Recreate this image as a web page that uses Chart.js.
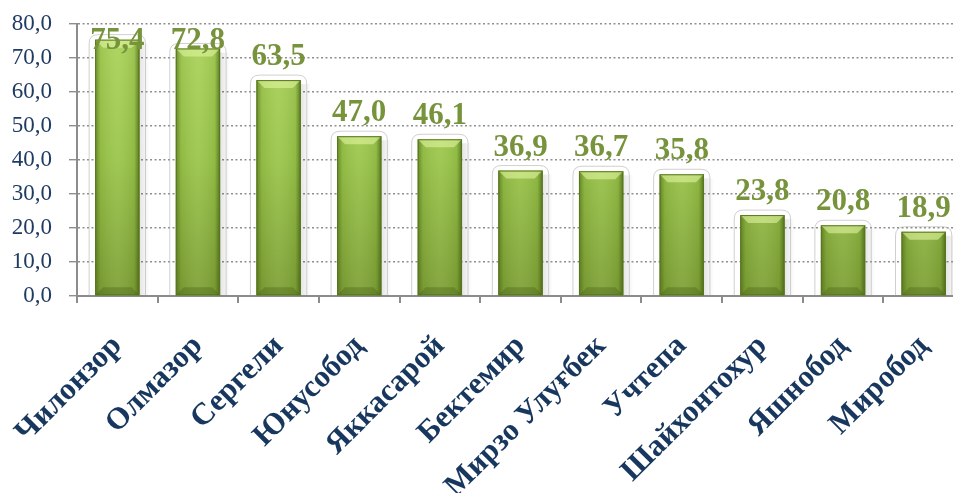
<!DOCTYPE html>
<html>
<head>
<meta charset="utf-8">
<script src="https://cdn.jsdelivr.net/npm/chart.js@4.4.0/dist/chart.umd.min.js"></script>
<style>
  html, body { margin: 0; padding: 0; background: #fff; overflow: hidden; }
  #wrap { position: relative; width: 964px; height: 493px; }
</style>
</head>
<body>
<div id="wrap"><canvas id="c"></canvas></div>
<script>
  /* data */
  const districts = ['Чилонзор', 'Олмазор', 'Сергели', 'Юнусобод', 'Яккасарой', 'Бектемир',
                     'Мирзо Улуғбек', 'Учтепа', 'Шайхонтохур', 'Яшнобод', 'Миробод'];
  const values = [75.4, 72.8, 63.5, 47.0, 46.1, 36.9, 36.7, 35.8, 23.8, 20.8, 18.9];
  const yTicks = [0, 10, 20, 30, 40, 50, 60, 70, 80];

  const fmt = v => v.toFixed(1).replace('.', ',');
  const SERIF = "'Liberation Serif', 'Times New Roman', serif";

  /* bar fill: vertical gradient */
  function barFill(ctx) {
    const c = ctx.chart.ctx;
    const area = ctx.chart.chartArea;
    if (!area) return '#94bd45';
    const g = c.createLinearGradient(0, area.top, 0, area.bottom);
    g.addColorStop(0, '#acd45b');
    g.addColorStop(0.5, '#9ac54a');
    g.addColorStop(1, '#7d9f35');
    return g;
  }

  /* glow outline behind bars */
  const barGlow = {
    id: 'barGlow',
    beforeDatasetsDraw(chart) {
      const c = chart.ctx;
      const meta = chart.getDatasetMeta(0);
      c.save();
      meta.data.forEach(b => {
        const l = b.x - b.width / 2 - 6, r = b.x + b.width / 2 + 6;
        const t = b.y - 5, bot = b.base;
        const rad = 9;
        const sg = c.createLinearGradient(r - 6, 0, r + 4, 0);
        sg.addColorStop(0, 'rgba(0,0,0,0.10)');
        sg.addColorStop(1, 'rgba(0,0,0,0)');
        c.fillStyle = sg;
        c.fillRect(r - 6, b.y + 4, 10, bot - b.y - 4);
        c.beginPath();
        c.moveTo(l, bot);
        c.lineTo(l, t + rad);
        c.quadraticCurveTo(l, t, l + rad, t);
        c.lineTo(r - rad, t);
        c.quadraticCurveTo(r, t, r, t + rad);
        c.lineTo(r, bot);
        c.strokeStyle = 'rgba(170,170,170,0.55)';
        c.lineWidth = 1;
        c.stroke();
      });
      c.restore();
    }
  };

  /* bevel shading on top of bars */
  const barBevel = {
    id: 'barBevel',
    afterDatasetsDraw(chart) {
      const c = chart.ctx;
      const meta = chart.getDatasetMeta(0);
      c.save();
      meta.data.forEach(b => {
        const l = b.x - b.width / 2, r = b.x + b.width / 2;
        const t = b.y, bot = b.base, bv = 8;
        const hg = c.createLinearGradient(l, 0, r, 0);
        hg.addColorStop(0, 'rgba(60,85,15,0.55)');
        hg.addColorStop(0.12, 'rgba(60,85,15,0.10)');
        hg.addColorStop(0.5, 'rgba(255,255,255,0.06)');
        hg.addColorStop(0.88, 'rgba(60,85,15,0.10)');
        hg.addColorStop(1, 'rgba(50,75,10,0.65)');
        c.fillStyle = hg;
        c.fillRect(l, t, r - l, bot - t);
        c.beginPath();
        c.moveTo(l, t); c.lineTo(r, t); c.lineTo(r - bv, t + bv); c.lineTo(l + bv, t + bv); c.closePath();
        c.fillStyle = 'rgba(225,245,160,0.6)';
        c.fill();
        c.beginPath();
        c.moveTo(l, bot); c.lineTo(r, bot); c.lineTo(r - bv, bot - bv); c.lineTo(l + bv, bot - bv); c.closePath();
        c.fillStyle = 'rgba(70,95,20,0.35)';
        c.fill();
        c.strokeStyle = '#58761f';
        c.lineWidth = 1;
        c.strokeRect(l + 0.5, t + 0.5, r - l - 1, bot - t - 1);
      });
      c.restore();
    }
  };

  /* value labels above bars */
  const valueLabels = {
    id: 'valueLabels',
    afterDraw(chart) {
      const c = chart.ctx;
      const meta = chart.getDatasetMeta(0);
      const top = chart.chartArea.top;
      c.save();
      c.font = 'bold 31px ' + SERIF;
      c.fillStyle = '#77933c';
      c.textAlign = 'center';
      c.textBaseline = 'alphabetic';
      meta.data.forEach((b, i) => {
        const y = Math.max(b.y - 15, top + 25);
        c.fillText(fmt(values[i]), b.x, y);
      });
      c.restore();
    }
  };

  new Chart(document.getElementById('c'), {
    type: 'bar',
    data: {
      labels: districts,
      datasets: [{
        data: values,
        backgroundColor: barFill,
        borderWidth: 0,
        barPercentage: 0.55,
        categoryPercentage: 1.0
      }]
    },
    options: {
      responsive: true,
      maintainAspectRatio: false,
      animation: false,
      events: [],
      layout: { padding: { top: 24, right: 0, bottom: 0, left: 0 } },
      plugins: { legend: { display: false }, tooltip: { enabled: false } },
      scales: {
        y: {
          min: 0,
          max: 80,
          afterBuildTicks: s => { s.ticks = yTicks.map(v => ({ value: v })); },
          afterFit: s => { s.width = 77; s.paddingTop = 0; s.paddingBottom = 0; },
          ticks: {
            padding: 17,
            color: '#1f3b63',
            font: { family: SERIF, size: 23 },
            callback: v => fmt(v)
          },
          grid: {
            color: '#8f8f8f',
            lineWidth: 1.4,
            tickLength: 8,
            tickBorderDash: [],
            drawTicks: true
          },
          border: { display: true, color: '#8c8c8c', width: 2, dash: [2, 2.5] }
        },
        x: {
          afterFit: s => { s.height = 197; s.paddingLeft = 0; s.paddingRight = 0; },
          ticks: {
            minRotation: 45,
            maxRotation: 45,
            autoSkip: false,
            padding: 25,
            color: '#17375e',
            font: { family: SERIF, size: 31, weight: 'bold' }
          },
          grid: {
            offset: true,
            drawOnChartArea: false,
            drawTicks: true,
            tickLength: 7,
            color: '#8c8c8c',
            lineWidth: 2
          },
          border: { display: true, color: '#8c8c8c', width: 2 }
        }
      }
    },
    plugins: [barGlow, barBevel, valueLabels]
  });
</script>
</body>
</html>
